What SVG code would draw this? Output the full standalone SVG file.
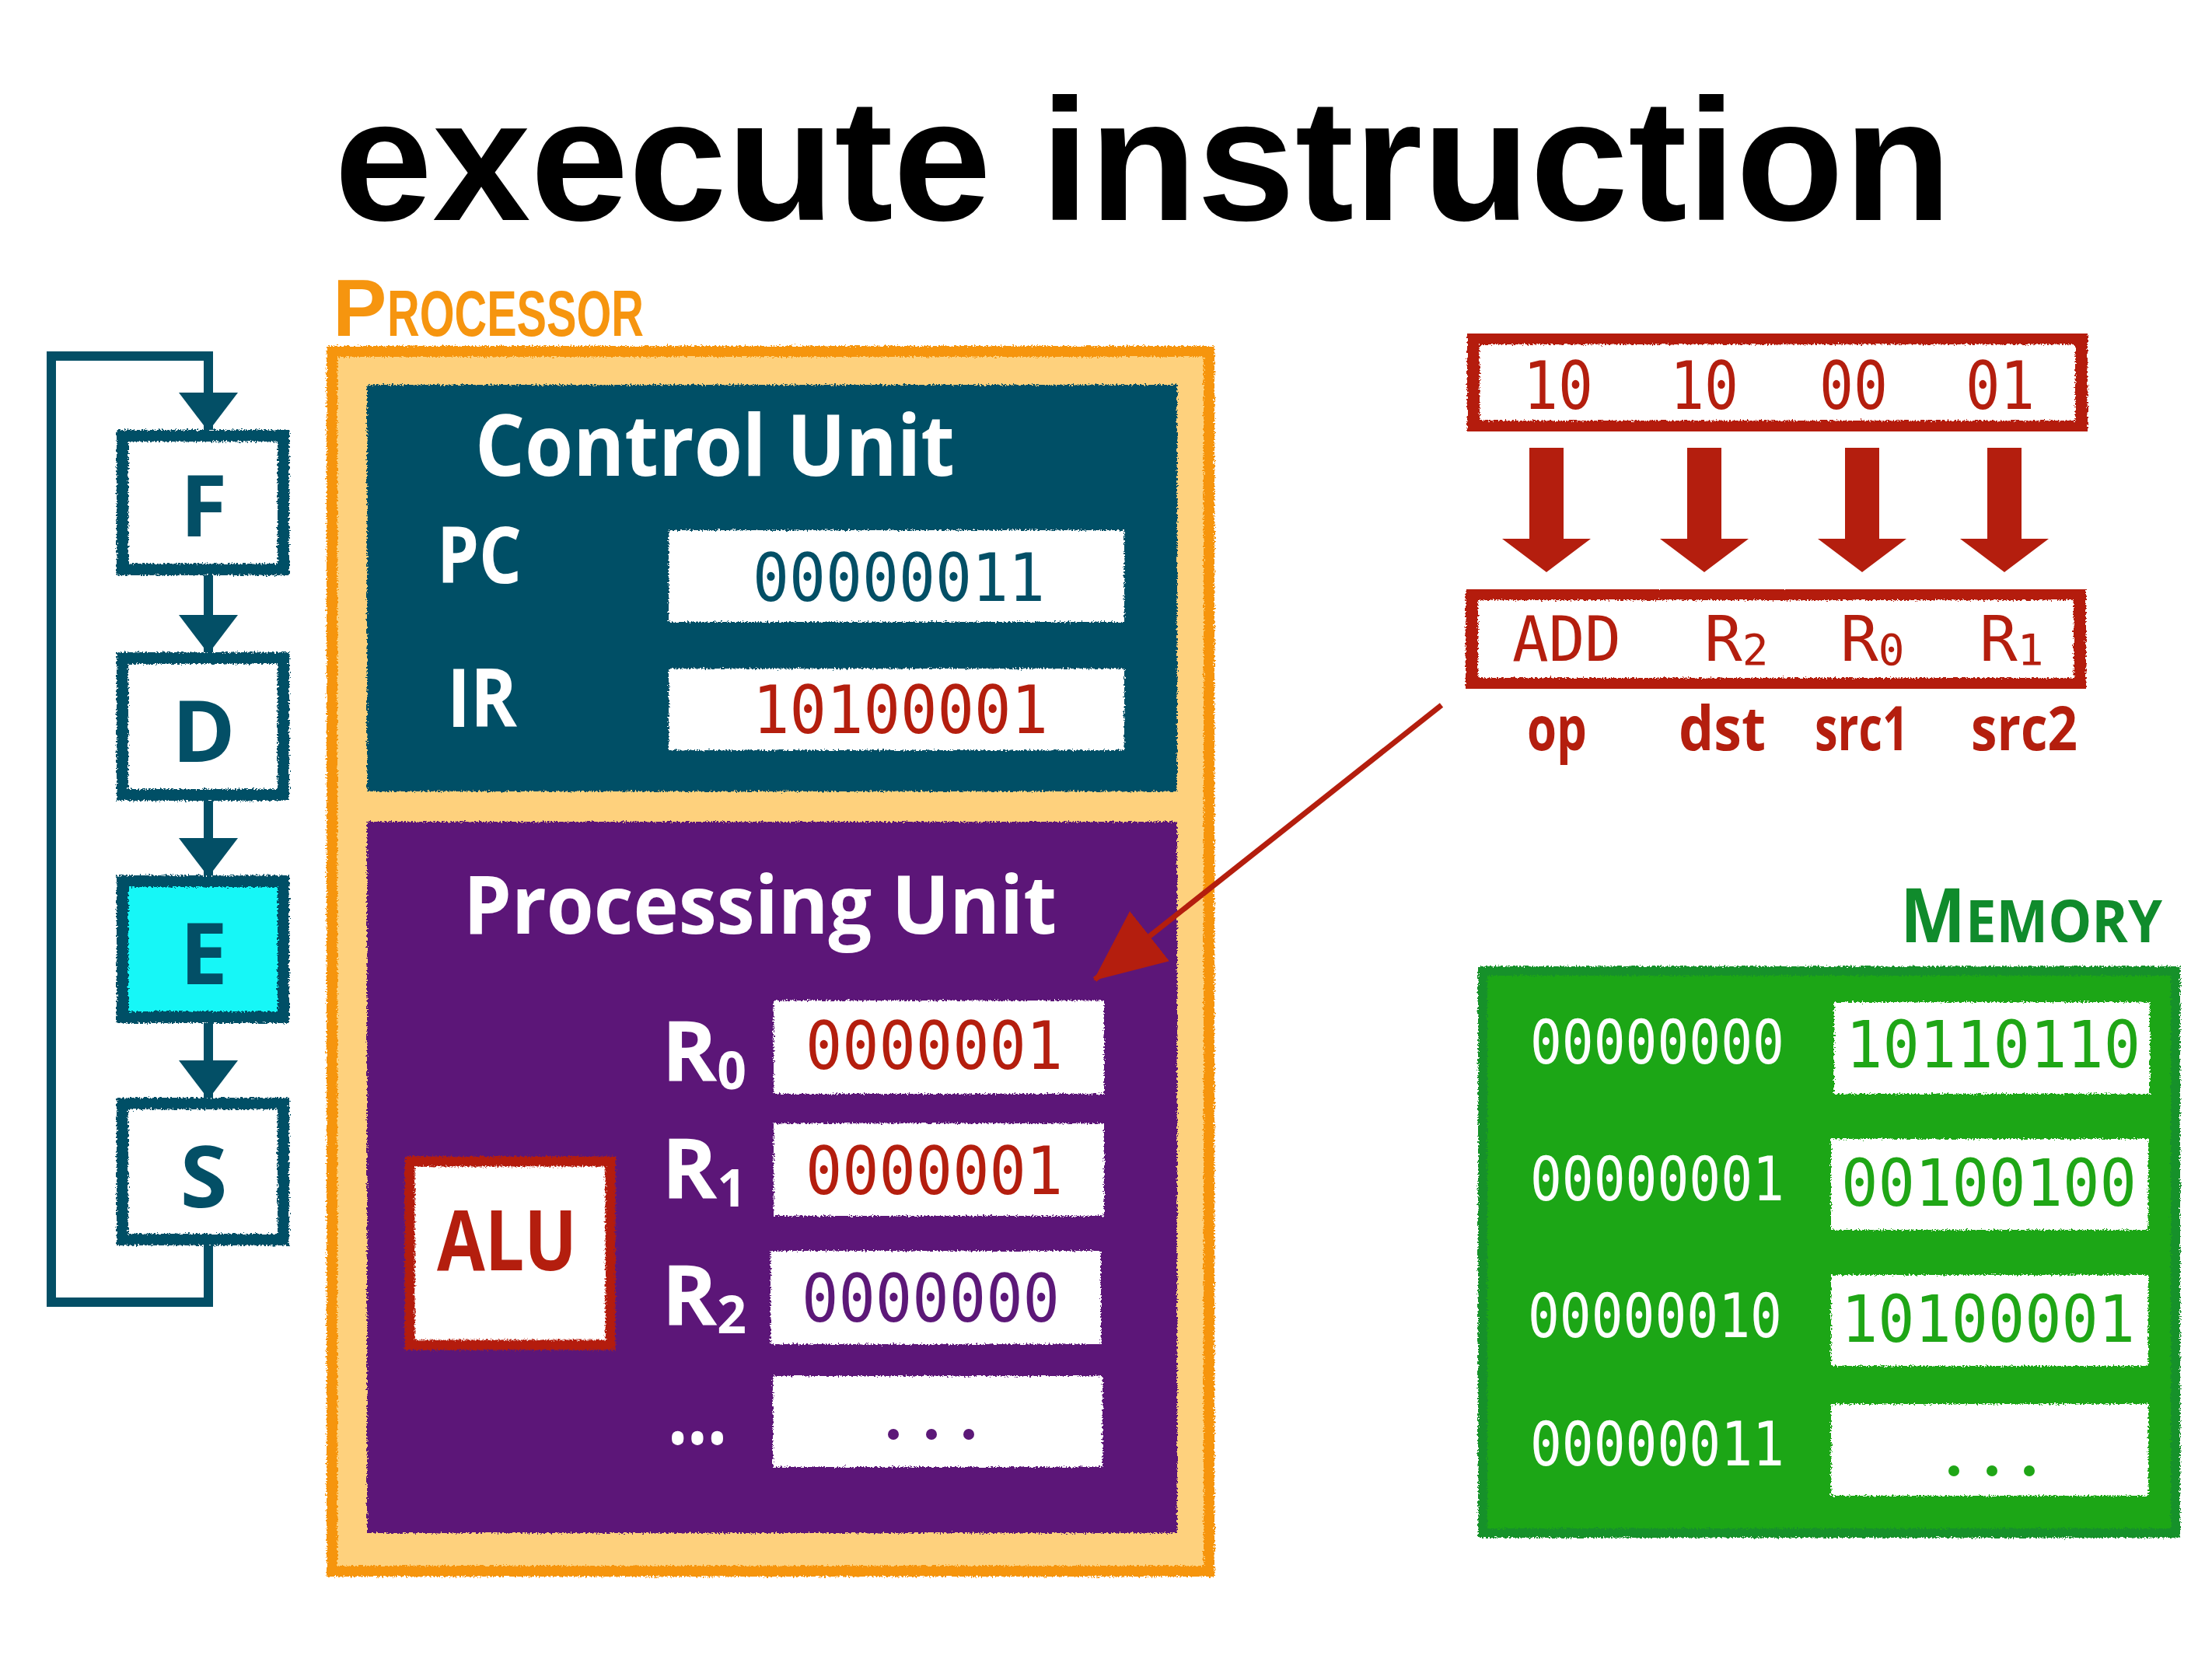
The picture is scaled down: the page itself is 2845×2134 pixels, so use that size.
<svg xmlns="http://www.w3.org/2000/svg" width="2845" height="2134" viewBox="0 0 2845 2134">
<style>
.hand{font-family:"Open Sans","Liberation Sans",sans-serif;font-weight:700}
.lab{font-family:"Liberation Sans",Arial,sans-serif;font-weight:700}
.mono{font-family:"DejaVu Sans Mono","Liberation Mono",monospace}
.teal{fill:#034F66}
.red{fill:#B41E0E}
.white{fill:#FFFFFF}
.cell{fill:#FFFFFF}
</style>
<defs>
<filter id="rough" x="-5%" y="-5%" width="110%" height="110%">
<feTurbulence type="fractalNoise" baseFrequency="0.45" numOctaves="2" seed="4" result="n"/>
<feDisplacementMap in="SourceGraphic" in2="n" scale="7" xChannelSelector="R" yChannelSelector="G"/>
</filter>
<marker id="ahTeal" markerUnits="userSpaceOnUse" viewBox="0 0 50 76" markerWidth="50" markerHeight="76" refX="48" refY="38" orient="auto">
<path d="M0,0 L50,38 L0,76 Z" fill="#034F66"/>
</marker>
<marker id="ahRed" markerUnits="userSpaceOnUse" viewBox="0 0 92 82" markerWidth="92" markerHeight="82" refX="90" refY="41" orient="auto">
<path d="M0,0 L92,41 L0,82 Z" fill="#B41E0E"/>
</marker>
<path id="bigDown" d="M-22,0 L22,0 L22,117 L57,117 L0,160 L-57,117 L-22,117 Z" fill="#B41E0E"/>
</defs>
<rect x="0" y="0" width="2845" height="2134" fill="#FFFFFF"/>

<g id="title">
<text class="lab" x="430" y="283" font-size="222" textLength="2080" lengthAdjust="spacingAndGlyphs" fill="#000000">execute instruction</text>
</g>

<g id="node-F">
<rect x="157.5" y="560.5" width="207" height="172" fill="#FFFFFF" stroke="#034F66" stroke-width="15" filter="url(#rough)"/>
<text class="hand teal" x="262" y="690" font-size="110" text-anchor="middle">F</text>
</g>
<g id="node-D">
<rect x="157.5" y="846.5" width="207" height="176" fill="#FFFFFF" stroke="#034F66" stroke-width="15" filter="url(#rough)"/>
<text class="hand teal" x="262" y="980" font-size="110" text-anchor="middle">D</text>
</g>
<g id="node-E">
<rect x="157.5" y="1133.5" width="207" height="175" fill="#13F7F7" stroke="#034F66" stroke-width="15" filter="url(#rough)"/>
<text class="hand teal" x="262" y="1266" font-size="110" text-anchor="middle">E</text>
</g>
<g id="node-S">
<rect x="157.5" y="1419.5" width="207" height="175" fill="#FFFFFF" stroke="#034F66" stroke-width="15" filter="url(#rough)"/>
<text class="hand teal" x="262" y="1553" font-size="110" text-anchor="middle">S</text>
</g>

<g id="processor">
<text class="lab" x="428" y="432" font-size="84" fill="#F6950F"><tspan font-size="104">P</tspan><tspan x="498" textLength="330" lengthAdjust="spacingAndGlyphs">ROCESSOR</tspan></text>
<rect x="427" y="452" width="1128" height="1569" fill="#FED17D" stroke="#F6950F" stroke-width="14" filter="url(#rough)"/>
</g>

<g id="control-unit">
<rect x="472" y="495" width="1042" height="523" fill="#034F66" filter="url(#rough)"/>
<text class="hand white" x="611" y="612" font-size="110" textLength="617" lengthAdjust="spacingAndGlyphs">Control Unit</text>
<text class="hand white" x="562" y="750" font-size="100" textLength="109" lengthAdjust="spacingAndGlyphs">PC</text>
<text class="hand white" x="575" y="935" font-size="104" textLength="90" lengthAdjust="spacingAndGlyphs">IR</text>
<rect class="cell" x="860" y="682" width="586" height="118" filter="url(#rough)"/>
<text class="mono" x="968" y="773" font-size="85" textLength="376" lengthAdjust="spacingAndGlyphs" fill="#034F66">00000011</text>
<rect class="cell" x="860" y="860" width="586" height="105" filter="url(#rough)"/>
<text class="mono red" x="968" y="943" font-size="85" textLength="380" lengthAdjust="spacingAndGlyphs">10100001</text>
</g>

<g id="processing-unit">
<rect x="472" y="1057" width="1042" height="915" fill="#5C1878" filter="url(#rough)"/>
<text class="hand white" x="596" y="1201" font-size="104" textLength="763" lengthAdjust="spacingAndGlyphs">Processing Unit</text>
<text class="hand white" x="851" y="1391" font-size="108">R<tspan font-size="66" dy="10">0</tspan></text>
<text class="hand white" x="851" y="1542" font-size="108">R<tspan font-size="66" dy="10">1</tspan></text>
<text class="hand white" x="851" y="1705" font-size="108">R<tspan font-size="66" dy="10">2</tspan></text>
<text class="hand white" x="859" y="1858" font-size="110" textLength="76" lengthAdjust="spacingAndGlyphs">...</text>
<rect class="cell" x="995" y="1287" width="425" height="120" filter="url(#rough)"/>
<text class="mono red" x="1036" y="1375" font-size="85" textLength="331" lengthAdjust="spacingAndGlyphs">0000001</text>
<rect class="cell" x="995" y="1445" width="425" height="119" filter="url(#rough)"/>
<text class="mono red" x="1036" y="1536" font-size="85" textLength="331" lengthAdjust="spacingAndGlyphs">0000001</text>
<rect class="cell" x="991" y="1609" width="425" height="120" filter="url(#rough)"/>
<text class="mono" x="1031" y="1700" font-size="85" textLength="332" lengthAdjust="spacingAndGlyphs" fill="#5C1878">0000000</text>
<rect class="cell" x="994" y="1770" width="424" height="117" filter="url(#rough)"/>
<g fill="#5C1878"><circle cx="1149" cy="1845" r="7"/><circle cx="1198" cy="1845" r="7"/><circle cx="1246" cy="1845" r="7"/></g>
</g>

<g id="alu">
<rect x="527" y="1494" width="258" height="236" fill="#FFFFFF" stroke="#B41E0E" stroke-width="13" filter="url(#rough)"/>
<text class="hand red" x="562" y="1634" font-size="108" textLength="180" lengthAdjust="spacingAndGlyphs">ALU</text>
</g>

<g id="instruction-bits">
<rect x="1895" y="435" width="782" height="114" fill="#FFFFFF" stroke="#B41E0E" stroke-width="16" filter="url(#rough)"/>
<text class="mono red" x="1959" y="526" font-size="86" textLength="90" lengthAdjust="spacingAndGlyphs">10</text>
<text class="mono red" x="2148" y="526" font-size="86" textLength="88" lengthAdjust="spacingAndGlyphs">10</text>
<text class="mono red" x="2340" y="526" font-size="86" textLength="88" lengthAdjust="spacingAndGlyphs">00</text>
<text class="mono red" x="2528" y="526" font-size="86" textLength="89" lengthAdjust="spacingAndGlyphs">01</text>
</g>

<g id="instruction-decoded">
<rect x="1893" y="764" width="782" height="116" fill="#FFFFFF" stroke="#B41E0E" stroke-width="16" filter="url(#rough)"/>
<text class="mono red" x="1945" y="850" font-size="81" textLength="140" lengthAdjust="spacingAndGlyphs">ADD</text>
<text class="mono red" x="2192" y="850" font-size="81">R<tspan font-size="56" dy="5">2</tspan></text>
<text class="mono red" x="2367" y="850" font-size="81">R<tspan font-size="56" dy="5">0</tspan></text>
<text class="mono red" x="2546" y="850" font-size="81">R<tspan font-size="56" dy="5">1</tspan></text>
<text class="hand red" x="1964" y="965" font-size="78" textLength="77" lengthAdjust="spacingAndGlyphs">op</text>
<text class="hand red" x="2159" y="965" font-size="78" textLength="112" lengthAdjust="spacingAndGlyphs">dst</text>
<text class="hand red" x="2334" y="965" font-size="78" textLength="121" lengthAdjust="spacingAndGlyphs">src1</text>
<text class="hand red" x="2535" y="965" font-size="78" textLength="137" lengthAdjust="spacingAndGlyphs">src2</text>
</g>

<g id="memory">
<text class="hand" x="2444" y="1212" font-size="76" textLength="337" lengthAdjust="spacingAndGlyphs" fill="#108B2C"><tspan font-size="96">M</tspan>EMORY</text>
<rect x="1907" y="1249" width="891" height="723" fill="#1FA616" stroke="#17912A" stroke-width="12" filter="url(#rough)"/>
<g class="mono" font-size="78" fill="#FFFFFF">
<text x="1968" y="1368" textLength="327" lengthAdjust="spacingAndGlyphs">00000000</text>
<text x="1968" y="1544" textLength="327" lengthAdjust="spacingAndGlyphs">00000001</text>
<text x="1965" y="1720" textLength="327" lengthAdjust="spacingAndGlyphs">00000010</text>
<text x="1968" y="1885" textLength="327" lengthAdjust="spacingAndGlyphs">00000011</text>
</g>
<rect class="cell" x="2359" y="1289" width="406" height="118" filter="url(#rough)"/>
<rect class="cell" x="2355" y="1465" width="408" height="117" filter="url(#rough)"/>
<rect class="cell" x="2355" y="1640" width="408" height="117" filter="url(#rough)"/>
<rect class="cell" x="2355" y="1806" width="408" height="118" filter="url(#rough)"/>
<g class="mono" font-size="84" fill="#1FA616">
<text x="2374" y="1373" textLength="379" lengthAdjust="spacingAndGlyphs">10110110</text>
<text x="2368" y="1551" textLength="380" lengthAdjust="spacingAndGlyphs">00100100</text>
<text x="2368" y="1726" textLength="378" lengthAdjust="spacingAndGlyphs">10100001</text>
</g>
<g fill="#1FA616"><circle cx="2513" cy="1892" r="7"/><circle cx="2562" cy="1892" r="7"/><circle cx="2610" cy="1892" r="7"/></g>
</g>

<g id="connectors">
<g fill="none" stroke="#034F66" stroke-width="12">
<path d="M268,1602 L268,1675 L66,1675 L66,458 L268,458 L268,553" marker-end="url(#ahTeal)"/>
<path d="M268,740 L268,839" marker-end="url(#ahTeal)"/>
<path d="M268,1030 L268,1126" marker-end="url(#ahTeal)"/>
<path d="M268,1316 L268,1412" marker-end="url(#ahTeal)"/>
</g>
<use href="#bigDown" x="1989" y="576"/>
<use href="#bigDown" x="2192" y="576"/>
<use href="#bigDown" x="2395" y="576"/>
<use href="#bigDown" x="2578" y="576"/>
<path d="M1854,907 L1408,1260" fill="none" stroke="#B41E0E" stroke-width="7" marker-end="url(#ahRed)"/>
</g>
</svg>
